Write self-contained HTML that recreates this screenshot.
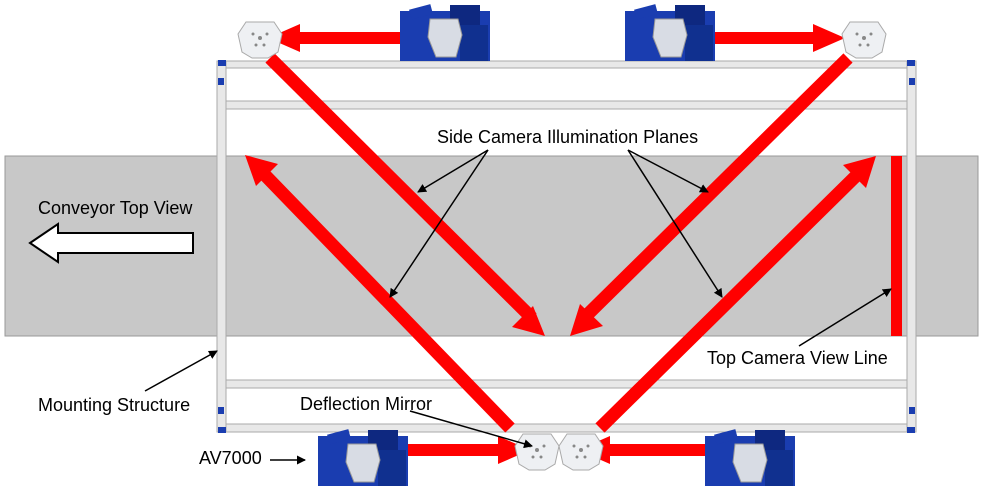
<!DOCTYPE html>
<html><head><style>body{margin:0;background:#fff}svg{display:block}text{font-family:"Liberation Sans",sans-serif;font-size:18px;fill:#000}</style></head><body>
<svg width="981" height="491" viewBox="0 0 981 491" xmlns="http://www.w3.org/2000/svg">
<defs>
<marker id="bk" markerWidth="9" markerHeight="9" refX="8" refY="4.5" orient="auto" markerUnits="userSpaceOnUse"><path d="M0,0L9,4.5L0,9z" fill="#000"/></marker>
<g id="mir"><path d="M-14,-16 L14,-16 L22,-4 L18,14 L8,20 L-8,20 L-18,14 L-22,-4Z" fill="#eef0f3" stroke="#aaa"/><circle cx="0" cy="0" r="2" fill="#888"/><circle cx="-7" cy="-4" r="1.5" fill="#888"/><circle cx="7" cy="-4" r="1.5" fill="#888"/><circle cx="-4" cy="7" r="1.5" fill="#888"/><circle cx="4" cy="7" r="1.5" fill="#888"/></g>
<g id="cam"><rect x="0" y="6" width="90" height="50" fill="#1a3db0"/><rect x="50" y="0" width="30" height="20" fill="#0e2880"/><rect x="60" y="20" width="28" height="36" fill="#10308f"/><rect x="10" y="2" width="22" height="10" fill="#1a3db0" transform="rotate(-15 20 7)"/><path d="M30,14 L58,14 L62,30 L56,52 L36,52 L28,32Z" fill="#d8dce4" stroke="#999"/></g>
</defs>
<rect x="5" y="156" width="973" height="180" fill="#c8c8c8" stroke="#999"/>
<g fill="#e8e8e8" stroke="#aaa">
<rect x="220" y="61" width="695" height="7"/>
<rect x="226" y="101" width="682" height="8"/>
<rect x="226" y="380" width="682" height="8"/>
<rect x="220" y="424" width="695" height="8"/>
<rect x="217" y="61" width="9" height="371"/>
<rect x="907" y="61" width="9" height="371"/>
</g>
<g fill="#1a3db0"><rect x="218" y="60" width="8" height="6"/><rect x="907" y="60" width="8" height="6"/><rect x="218" y="427" width="8" height="6"/><rect x="907" y="427" width="8" height="6"/><rect x="218" y="78" width="6" height="7"/><rect x="909" y="78" width="6" height="7"/><rect x="218" y="407" width="6" height="7"/><rect x="909" y="407" width="6" height="7"/></g>
<g fill="#f00">
<rect x="891" y="156" width="11" height="180"/>
<path d="M270,58 L532,318" stroke="#f00" stroke-width="13"/>
<polygon points="545,336 512,327 533,306"/>
<path d="M510,428 L262,172" stroke="#f00" stroke-width="13"/>
<polygon points="245,155 278,164 256,186"/>
<path d="M848,58 L584,318" stroke="#f00" stroke-width="13"/>
<polygon points="570,336 580,304 603,326"/>
<path d="M600,428 L860,172" stroke="#f00" stroke-width="13"/>
<polygon points="876,156 866,188 843,165"/>
<rect x="300" y="32" width="105" height="12"/><polygon points="268,38 300,24 300,52"/>
<rect x="715" y="32" width="100" height="12"/><polygon points="845,38 813,24 813,52"/>
<rect x="405" y="444" width="95" height="12"/><polygon points="530,450 498,436 498,464"/>
<rect x="610" y="444" width="100" height="12"/><polygon points="578,450 610,436 610,464"/>
</g>
<use href="#mir" x="260" y="38"/>
<use href="#mir" x="864" y="38"/>
<use href="#mir" x="537" y="450"/>
<use href="#mir" x="581" y="450"/>
<use href="#cam" x="400" y="5"/>
<use href="#cam" x="625" y="5"/>
<use href="#cam" x="318" y="430"/>
<use href="#cam" x="705" y="430"/>
<polygon points="30,243 58,224 58,233 193,233 193,253 58,253 58,262" fill="#fff" stroke="#000" stroke-width="2"/>
<text x="38" y="214">Conveyor Top View</text>
<text x="437" y="143">Side Camera Illumination Planes</text>
<text x="38" y="411">Mounting Structure</text>
<text x="300" y="410">Deflection Mirror</text>
<text x="707" y="364">Top Camera View Line</text>
<text x="199" y="464">AV7000</text>
<g stroke="#000" stroke-width="1.5" fill="none" marker-end="url(#bk)">
<path d="M488,150 L418,192"/>
<path d="M488,150 L390,297"/>
<path d="M628,150 L708,192"/>
<path d="M628,150 L722,297"/>
<path d="M145,391 L217,351"/>
<path d="M410,411 L532,446"/>
<path d="M799,346 L891,289"/>
<path d="M270,460 L305,460"/>
</g>
</svg>
</body></html>
